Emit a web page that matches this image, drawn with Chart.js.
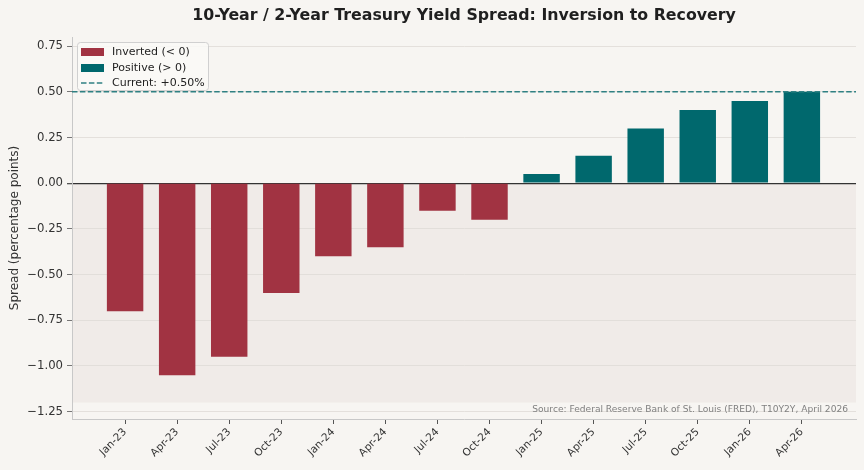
<!DOCTYPE html>
<html>
<head>
<meta charset="utf-8">
<script src="https://cdn.jsdelivr.net/npm/chart.js@4"></script>
<style>
  html, body { margin: 0; padding: 0; background: #f7f5f2; }
  #wrap { width: 864px; height: 470px; }
</style>
</head>
<body>
<div id="wrap"><canvas id="c" width="864" height="470"></canvas></div>
<script>
// ---- data ----
const categories = ['Jan-23','Apr-23','Jul-23','Oct-23','Jan-24','Apr-24','Jul-24','Oct-24','Jan-25','Apr-25','Jul-25','Oct-25','Jan-26','Apr-26'];
const spreadValues = [-0.70, -1.05, -0.95, -0.60, -0.40, -0.35, -0.15, -0.20, 0.05, 0.15, 0.30, 0.40, 0.45, 0.50];
const currentSpread = 0.50;
const yTickValues = [0.75, 0.50, 0.25, 0.00, -0.25, -0.50, -0.75, -1.00, -1.25];
const shadeFloor = -1.2;
const labels = ['Inverted (< 0)', 'Positive (> 0)', 'Current: +0.50%'];
const titleText = '10-Year / 2-Year Treasury Yield Spread: Inversion to Recovery';
const yTitleText = 'Spread (percentage points)';
const sourceText = 'Source: Federal Reserve Bank of St. Louis (FRED), T10Y2Y, April 2026';

// ---- styles ----
const RED = '#a13342';
const TEAL = '#00686d';
const DASH_TEAL = '#2f8082';
const FONT = '"DejaVu Sans", sans-serif';
const X_MIN = -1.02, X_MAX = 14.04;

const invertedData = spreadValues.map((v, i) => ({x: i, y: v})).filter(p => p.y < 0);
const positiveData = spreadValues.map((v, i) => ({x: i, y: v})).filter(p => p.y >= 0);
const currentLine = [{x: X_MIN, y: currentSpread}, {x: X_MAX, y: currentSpread}];

function fmtY(v) {
  const s = Math.abs(v).toFixed(2);
  return v < 0 ? '\u2212' + s : s;
}

const decorPlugin = {
  id: 'decor',
  beforeDraw(chart) {
    const {ctx, chartArea: a, scales: {y}} = chart;
    ctx.save();
    ctx.fillStyle = '#f7f5f2';
    ctx.fillRect(0, 0, chart.width, chart.height);
    const y0 = y.getPixelForValue(0), y1 = y.getPixelForValue(shadeFloor);
    ctx.fillStyle = '#f0ebe8';
    ctx.fillRect(a.left, y0, a.right - a.left, y1 - y0);
    ctx.restore();
  },
  afterDraw(chart) {
    const {ctx, chartArea: a} = chart;
    ctx.save();
    // title
    ctx.font = 'bold 15.8px ' + FONT;
    ctx.fillStyle = '#1f1f1f';
    ctx.textAlign = 'center';
    ctx.textBaseline = 'middle';
    ctx.fillText(titleText, (a.left + a.right) / 2, 16);
    // source
    ctx.font = '9.1px ' + FONT;
    ctx.fillStyle = '#808080';
    ctx.textAlign = 'right';
    ctx.fillText(sourceText, a.right - 8, 410);
    // legend
    const bx = a.left + 5, by = a.top + 5, bw = 131, bh = 48;
    ctx.fillStyle = 'rgba(250,249,247,0.85)';
    ctx.strokeStyle = '#d0d0d0';
    ctx.lineWidth = 1;
    ctx.beginPath();
    if (ctx.roundRect) ctx.roundRect(bx + 0.5, by + 0.5, bw, bh, 3); else ctx.rect(bx + 0.5, by + 0.5, bw, bh);
    ctx.fill();
    ctx.stroke();
    const rows = [by + 10, by + 26, by + 41];
    const sx = bx + 4, sw = 23;
    ctx.fillStyle = RED;
    ctx.fillRect(sx, rows[0] - 4, sw, 8);
    ctx.fillStyle = TEAL;
    ctx.fillRect(sx, rows[1] - 4, sw, 8);
    ctx.strokeStyle = DASH_TEAL;
    ctx.lineWidth = 1.5;
    ctx.setLineDash([5.5, 2.4]);
    ctx.beginPath();
    ctx.moveTo(sx, rows[2]);
    ctx.lineTo(sx + sw, rows[2]);
    ctx.stroke();
    ctx.setLineDash([]);
    ctx.font = '11px ' + FONT;
    ctx.fillStyle = '#222';
    ctx.textAlign = 'left';
    ctx.textBaseline = 'middle';
    labels.forEach((t, i) => ctx.fillText(t, sx + 31, rows[i]));
    ctx.restore();
  }
};

new Chart(document.getElementById('c'), {
  data: {
    datasets: [
      { type: 'bar', label: labels[0], data: invertedData, backgroundColor: RED, grouped: false,
        barPercentage: 0.7, categoryPercentage: 1.0, order: 2 },
      { type: 'bar', label: labels[1], data: positiveData, backgroundColor: TEAL, grouped: false,
        barPercentage: 0.7, categoryPercentage: 1.0, order: 2 },
      { type: 'line', label: labels[2], data: currentLine, borderColor: DASH_TEAL, borderWidth: 1.5,
        borderDash: [5.5, 2.4], pointRadius: 0, fill: false, order: 1 }
    ]
  },
  options: {
    responsive: false,
    animation: false,
    devicePixelRatio: 1,
    layout: { padding: { top: 37, right: 8, left: 0, bottom: 0 } },
    plugins: { legend: { display: false }, title: { display: false }, tooltip: { enabled: false } },
    scales: {
      x: {
        type: 'linear', min: X_MIN, max: X_MAX, offset: false,
        afterBuildTicks: s => { s.ticks = categories.map((_, i) => ({value: i})); },
        ticks: { callback: v => categories[v], autoSkip: false, maxRotation: 45, minRotation: 45,
                 font: { family: FONT, size: 10.5 }, color: '#333', padding: 2 },
        grid: { offset: false, drawOnChartArea: false, drawTicks: true, tickLength: 5, tickColor: '#555' },
        border: { color: '#c8c8c8', width: 1 },
        afterFit: s => { s.height = 51; }
      },
      y: {
        min: -1.29, max: 0.80,
        afterBuildTicks: s => { s.ticks = yTickValues.map(v => ({value: v})); },
        ticks: { callback: v => fmtY(v), font: { family: FONT, size: 11.7 }, color: '#333', padding: 4 },
        grid: {
          color: c => (c.tick && c.tick.value === 0) ? '#333333' : '#dedad6',
          lineWidth: c => (c.tick && c.tick.value === 0) ? 1.3 : 0.8,
          tickLength: 5, tickColor: '#555'
        },
        border: { color: '#c8c8c8', width: 1 },
        title: { display: true, text: yTitleText, font: { family: FONT, size: 12 }, color: '#333',
                 padding: { top: 8, bottom: 0 } },
        afterFit: s => { s.width = 72; }
      }
    }
  },
  plugins: [decorPlugin]
});
</script>
</body>
</html>
